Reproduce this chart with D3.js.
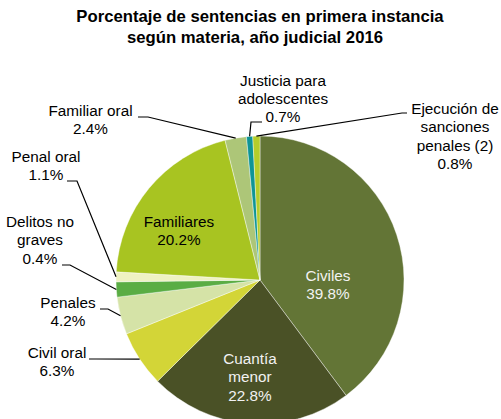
<!DOCTYPE html>
<html>
<head>
<meta charset="utf-8">
<script src="https://cdn.jsdelivr.net/npm/d3@7"></script>
<style>
  body { margin: 0; background: #fff; }
  svg { display: block; font-family: "Liberation Sans", Arial, sans-serif; }
</style>
</head>
<body>
<div id="chart"></div>
<script>
// slices clockwise from 12 o'clock
const categories = ["Civiles", "Cuantía menor", "Civil oral", "Penales", "Delitos no graves",
                    "Penal oral", "Familiares", "Familiar oral", "Justicia para adolescentes",
                    "Ejecución de sanciones penales (2)"];
// wedge sizes as drawn (the green "Delitos no graves" wedge measures ~1.7% though printed 0.4%)
const values = [39.8, 22.8, 6.3, 4.2, 1.7, 1.1, 20.2, 2.4, 0.7, 0.8];
const pctLabels = ["39.8%", "22.8%", "6.3%", "4.2%", "0.4%", "1.1%", "20.2%", "2.4%", "0.7%", "0.8%"];
const labelLines = [
    ["Civiles"], ["Cuantía", "menor"], ["Civil oral"], ["Penales"], ["Delitos no", "graves"],
    ["Penal oral"], ["Familiares"], ["Familiar oral"], ["Justicia para", "adolescentes"],
    ["Ejecución de", "sanciones", "penales (2)"]
];
const colors = ["#637536", "#4a5126", "#d3d537", "#d5e3a7", "#5aad44",
                "#eff2c3", "#a8c421", "#adc678", "#0f9595", "#b5cd2b"];

const W = 501, H = 419;
const cx = 260, cy = 280, R = 144;
const lineH = 18.4;

const svg = d3.select("#chart").append("svg")
    .attr("width", W).attr("height", H);

// title
const title = ["Porcentaje de sentencias en primera instancia", "según materia, año judicial 2016"];
svg.append("g").selectAll("text")
    .data(title)
    .join("text")
    .attr("x", (d, i) => i === 0 ? 260 : 255)
    .attr("y", (d, i) => 21.5 + i * 21)
    .attr("text-anchor", "middle")
    .attr("font-size", "16.7px")
    .attr("font-weight", "bold")
    .attr("fill", "#000")
    .text(d => d);

const pie = d3.pie().sort(null).value(d => d);
const arcs = pie(values);
const arc = d3.arc().innerRadius(0).outerRadius(R);

const g = svg.append("g").attr("transform", "translate(" + cx + "," + cy + ")");

g.selectAll("path")
    .data(arcs)
    .join("path")
    .attr("d", arc)
    .attr("fill", (d, i) => colors[i])
    .attr("stroke", "#fff")
    .attr("stroke-width", 0.4);

// label layout: inside labels (i) or outside with leader (o)
// t = text centre x / first baseline, e = elbow points of leader (absolute page coords)
const layout = {
    0: {in: true, x: 328, y: 281, fill: "#f2f2f2"},
    1: {in: true, x: 250, y: 364, fill: "#f2f2f2"},
    6: {in: true, x: 179, y: 227, fill: "#000"},
    2: {x: 57, y: 358, e: [[89, 359], [96, 359]]},
    3: {x: 68, y: 308, e: [[100, 309], [108, 309]]},
    4: {x: 40, y: 227, e: [[62, 265], [70, 265]]},
    5: {x: 46, y: 161.5, e: [[67, 181], [77, 181]]},
    7: {x: 90.5, y: 116, e: [[138, 117], [148, 117]]},
    8: {x: 283, y: 85.5, e: [[262, 122], [251, 122]]},
    9: {x: 455, y: 114, e: [[407, 113], [402, 113]]}
};

const labels = svg.append("g");

arcs.forEach((a, i) => {
    const L = layout[i];
    const lines = labelLines[i].concat([pctLabels[i]]);
    labels.append("text")
        .attr("text-anchor", "middle")
        .attr("font-size", "15.3px")
        .attr("fill", L.fill || "#000")
        .selectAll("tspan")
        .data(lines)
        .join("tspan")
        .attr("x", L.x)
        .attr("y", (d, k) => L.y + k * lineH)
        .text(d => d);

    if (!L.in) {
        const mid = (a.startAngle + a.endAngle) / 2;
        const px = cx + R * Math.sin(mid);
        const py = cy - R * Math.cos(mid);
        const pts = L.e.concat([[px, py]]);
        labels.append("path")
            .attr("d", d3.line()(pts))
            .attr("fill", "none")
            .attr("stroke", "#000")
            .attr("stroke-width", 1.2);
    }
});
</script>
</body>
</html>
